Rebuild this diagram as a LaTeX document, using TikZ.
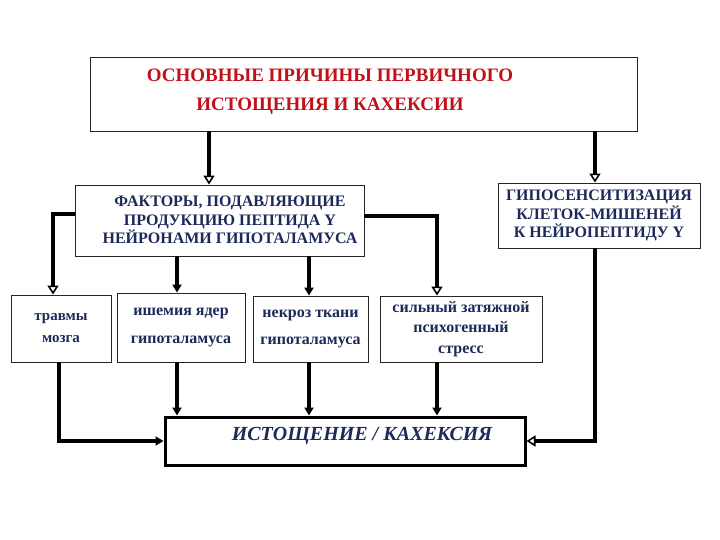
\documentclass[tikz,border=0pt]{standalone}
\usepackage{fontspec}
\setmainfont{Liberation Serif}
\usetikzlibrary{arrows.meta}
\definecolor{darkred}{HTML}{C0101A}
\definecolor{navy}{HTML}{1C2A5A}

\begin{document}
\begin{tikzpicture}[x=1pt, y=-1pt,
  box/.style={draw=black!85, line width=0.9pt, inner sep=0pt},
  conn/.style={line width=3.2pt},
  openarr/.style={conn, -{Triangle[open, length=9pt, width=11pt, line width=1.6pt]}},
  fillarr/.style={conn, -{Triangle[length=8pt, width=9pt]}},
  redtxt/.style={text=darkred, font=\fontsize{19}{29}\selectfont\bfseries, align=center},
  bluetxt/.style={text=navy, font=\fontsize{16}{18.5}\selectfont\bfseries, align=center},
  lowtxt/.style={text=navy, font=\fontsize{16}{22}\selectfont\bfseries, align=center}]

\useasboundingbox (0,0) rectangle (720,540);

% Main causes
\node[box, minimum width=547, minimum height=74] (causes) at (363.5,94) {};
\node[redtxt] (causestext) at (330,91.5) {ОСНОВНЫЕ ПРИЧИНЫ ПЕРВИЧНОГО\\ИСТОЩЕНИЯ И КАХЕКСИИ};

% Second row
\node[box, minimum width=289, minimum height=71] (factors) at (219.5,220.5) {};
\node[bluetxt] (factorstext) at (230,220) {ФАКТОРЫ, ПОДАВЛЯЮЩИЕ\\ПРОДУКЦИЮ ПЕПТИДА Y\\НЕЙРОНАМИ ГИПОТАЛАМУСА};
\node[box, bluetxt, minimum width=202, minimum height=65] (hypo) at (599,215.5) {ГИПОСЕНСИТИЗАЦИЯ\\КЛЕТОК-МИШЕНЕЙ\\К НЕЙРОПЕПТИДУ Y};

% Third row
\node[box, lowtxt, font=\fontsize{15}{22}\selectfont\bfseries, minimum width=100, minimum height=67] (trauma) at (61,328.5) {травмы\\мозга};
\node[box, lowtxt, minimum width=128, minimum height=69] (ischemia) at (181,327.5) {ишемия ядер\\[6pt]гипоталамуса};
\node[box, lowtxt, minimum width=115, minimum height=66] (necrosis) at (310.5,329) {некроз ткани\\[5pt]гипоталамуса};
\node[box, lowtxt, font=\fontsize{16}{20.5}\selectfont\bfseries, minimum width=162, minimum height=66] (stress) at (461,329) {сильный затяжной\\психогенный\\стресс};

% Result
\node[draw, line width=3pt, minimum width=360, minimum height=48] (final) at (345,441) {};
\node[text=navy, font=\fontsize{20}{24}\selectfont\bfseries\itshape] (finaltext) at (362,436) {ИСТОЩЕНИЕ / КАХЕКСИЯ};

% Connectors
\draw[openarr] ([xshift=-10.5pt]factors.north |- causes.south) -- ([xshift=-10.5pt]factors.north);
\draw[openarr] ([xshift=-4pt]hypo.north |- causes.south) -- ([xshift=-4pt]hypo.north);

\draw[openarr] ([yshift=6.5pt]factors.west) -| ([xshift=-8pt]trauma.north);
\draw[fillarr] ([xshift=-4pt]ischemia.north |- factors.south) -- ([xshift=-4pt]ischemia.north);
\draw[fillarr] ([xshift=-1.5pt]necrosis.north |- factors.south) -- ([xshift=-1.5pt]necrosis.north);
\draw[openarr] ([yshift=4.5pt]factors.east) -| ([xshift=-24pt]stress.north);

\draw[fillarr] ([xshift=-2pt]trauma.south) |- (final.west);
\draw[fillarr] ([xshift=-4pt]ischemia.south) -- ([xshift=-4pt]ischemia.south |- final.north);
\draw[fillarr] ([xshift=-1.5pt]necrosis.south) -- ([xshift=-1.5pt]necrosis.south |- final.north);
\draw[fillarr] ([xshift=-24pt]stress.south) -- ([xshift=-24pt]stress.south |- final.north);
\draw[openarr] ([xshift=-4pt]hypo.south) |- (final.east);
\end{tikzpicture}
\end{document}
